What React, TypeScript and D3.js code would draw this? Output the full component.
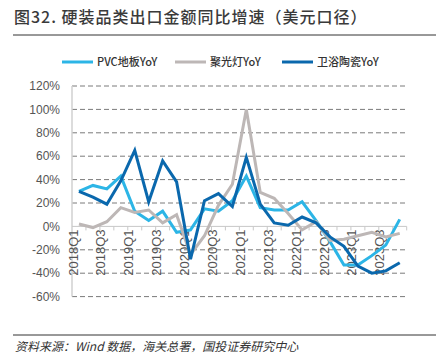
import React, { useEffect, useRef } from 'react';
import * as d3 from 'd3';

// quarters 2018Q1 .. 2023Q4
const quarters = [
  '2018Q1', '2018Q2', '2018Q3', '2018Q4',
  '2019Q1', '2019Q2', '2019Q3', '2019Q4',
  '2020Q1', '2020Q2', '2020Q3', '2020Q4',
  '2021Q1', '2021Q2', '2021Q3', '2021Q4',
  '2022Q1', '2022Q2', '2022Q3', '2022Q4',
  '2023Q1', '2023Q2', '2023Q3', '2023Q4'
];

// PVC地板YoY (%)
const pvcValues = [30, 35, 32, 43, 13, 5, 13, -5, -3, 15, 13, 22, 43, 16, 14, 14, 21, 5, -13, -33, -33, -25, -16, 6];
// 聚光灯YoY (%)
const lightValues = [2, -1, 4, 16, 12, 14, 3, 10, -24, -8, 18, 36, 100, 29, 24, 11, -3, 4, -12, -11, -8, -5, -9, -6];
// 卫浴陶瓷YoY (%)
const ceramicValues = [30, 25, 19, 39, 65, 21, 56, 38, -28, 22, 28, 17, 59, 19, 3, 1, 8, 3, -9, -17, -34, -40, -38, -31];

const yTicks = [-60, -40, -20, 0, 20, 40, 60, 80, 100, 120];

const seriesNames = ['PVC地板YoY', '聚光灯YoY', '卫浴陶瓷YoY'];
const seriesColors = ['#2cb5e6', '#bdb7b6', '#0a68ad'];

const cjk = '"Noto Sans CJK SC", "Noto Sans", sans-serif';
const latin = 'Arial, "Liberation Sans", sans-serif';

function App() {
  const ref = useRef<SVGSVGElement>(null);

  useEffect(() => {
    const svg = d3.select(ref.current);
    svg.selectAll('*').remove();

    const left = 72, right = 406.7, top = 86, bottom = 296.6;

    // title
    svg.append('text')
      .attr('x', 14).attr('y', 23)
      .attr('font-family', cjk).attr('font-size', 16).attr('font-weight', 500)
      .attr('letter-spacing', 1)
      .attr('fill', '#3a3a3a')
      .text('图32. 硬装品类出口金额同比增速（美元口径）');
    svg.append('line')
      .attr('x1', 13).attr('x2', 436).attr('y1', 35).attr('y2', 35)
      .attr('stroke', '#333').attr('stroke-width', 1);

    // legend
    const legendX = [62, 175, 282];
    const lg = svg.append('g');
    seriesNames.forEach((name, i) => {
      lg.append('line')
        .attr('x1', legendX[i]).attr('x2', legendX[i] + 31)
        .attr('y1', 62).attr('y2', 62)
        .attr('stroke', seriesColors[i]).attr('stroke-width', 3);
      lg.append('text')
        .attr('x', legendX[i] + 35).attr('y', 62).attr('dy', '0.35em')
        .attr('font-family', cjk).attr('font-size', 11).attr('font-weight', 500)
        .attr('fill', '#333')
        .text(name);
    });

    var x = d3.scaleBand()
      .domain(quarters)
      .range([left, right])
      .padding(0);
    const bw = x.bandwidth();

    var y = d3.scaleLinear()
      .domain([-60, 120])
      .range([bottom, top]);

    // grid lines + y labels
    const grid = svg.append('g');
    yTicks.forEach(t => {
      if (t !== 0) {
        grid.append('line')
          .attr('x1', left).attr('x2', right)
          .attr('y1', y(t)).attr('y2', y(t))
          .attr('stroke', '#7a7a7a').attr('stroke-width', 1)
          .attr('stroke-dasharray', '5,3');
      }
      grid.append('text')
        .attr('x', 60).attr('y', y(t)).attr('dy', '0.35em')
        .attr('text-anchor', 'end')
        .attr('font-family', latin).attr('font-size', 12).attr('fill', '#555')
        .text(t + '%');
    });

    // y axis line
    svg.append('line')
      .attr('x1', left).attr('x2', left).attr('y1', top).attr('y2', bottom)
      .attr('stroke', '#d0d0d0').attr('stroke-width', 1.5);

    // x axis at 0
    svg.append('line')
      .attr('x1', left).attr('x2', right).attr('y1', y(0)).attr('y2', y(0))
      .attr('stroke', '#c8c8c8').attr('stroke-width', 1);
    quarters.forEach(q => {
      svg.append('line')
        .attr('x1', (x(q) as number) + bw).attr('x2', (x(q) as number) + bw)
        .attr('y1', y(0)).attr('y2', y(0) + 4)
        .attr('stroke', '#c8c8c8').attr('stroke-width', 1);
    });

    // x labels, every other quarter
    quarters.forEach((q, i) => {
      if (i % 2 !== 0) return;
      const cx = (x(q) as number) + bw / 2 - 6;
      svg.append('text')
        .attr('transform', 'translate(' + cx + ',' + (y(0) + 3) + ') rotate(-90)')
        .attr('dy', '0.35em')
        .attr('text-anchor', 'end')
        .attr('font-family', latin).attr('font-size', 13).attr('fill', '#555')
        .text(q);
    });

    // lines
    const allSeries = [pvcValues, lightValues, ceramicValues];
    const line = d3.line<number>()
      .x((d, i) => (x(quarters[i]) as number) + bw / 2)
      .y(d => y(d));
    // draw order: light blue, gray, dark blue on top
    [0, 1, 2].forEach(i => {
      svg.append('path')
        .datum(allSeries[i])
        .attr('d', line)
        .attr('fill', 'none')
        .attr('stroke', seriesColors[i])
        .attr('stroke-width', 3)
        .attr('stroke-linejoin', 'miter');
    });

    // footer
    svg.append('line')
      .attr('x1', 13).attr('x2', 436).attr('y1', 335).attr('y2', 335)
      .attr('stroke', '#333').attr('stroke-width', 1);
    svg.append('text')
      .attr('x', 15).attr('y', 347).attr('dy', '0.35em')
      .attr('font-family', cjk).attr('font-size', 12).attr('font-style', 'italic')
      .attr('fill', '#333')
      .text('资料来源：Wind 数据，海关总署，国投证券研究中心');
  }, []);

  return (
    <div style={{ position: 'absolute', left: 0, top: 0 }}>
      <svg ref={ref} width={436} height={358} style={{ display: 'block', background: '#fff' }}></svg>
    </div>
  );
}

export default App;
